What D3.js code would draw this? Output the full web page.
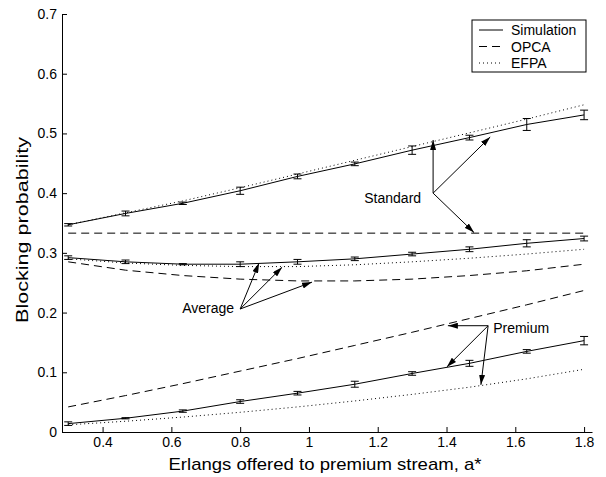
<!DOCTYPE html>
<html>
<head>
<meta charset="utf-8">
<script src="https://cdn.jsdelivr.net/npm/d3@7"></script>
<style>
  body { margin: 0; background: #fff; }
  text { font-family: "Liberation Sans", Arial, sans-serif; fill: #000; }
</style>
</head>
<body>
<div id="chart"></div>
<script>
// offered load on the premium stream
let erlangs = [0.3, 0.4667, 0.6333, 0.8, 0.9667, 1.1333, 1.3, 1.4667, 1.6333, 1.8];

// simulation results (mean, half width of error bar)
let simStandard = [0.347, 0.366, 0.383, 0.404, 0.428, 0.449, 0.472, 0.493, 0.515, 0.531];
let errStandard = [0.002, 0.004, 0.002, 0.006, 0.004, 0.003, 0.007, 0.004, 0.010, 0.008];
let simAverage  = [0.292, 0.285, 0.281, 0.281, 0.285, 0.290, 0.298, 0.306, 0.316, 0.324];
let errAverage  = [0.003, 0.003, 0.001, 0.004, 0.004, 0.003, 0.003, 0.004, 0.006, 0.004];
let simPremium  = [0.014, 0.023, 0.035, 0.051, 0.065, 0.080, 0.098, 0.115, 0.135, 0.153];
let errPremium  = [0.003, 0.001, 0.002, 0.003, 0.003, 0.005, 0.003, 0.005, 0.003, 0.007];

// OPCA approximation
let opcaStandard = [0.333, 0.333, 0.333, 0.333, 0.333, 0.333, 0.333, 0.333, 0.333, 0.333];
let opcaAverage  = [0.285, 0.271, 0.262, 0.256, 0.253, 0.253, 0.256, 0.262, 0.270, 0.281];
let opcaPremium  = [0.042, 0.061, 0.081, 0.102, 0.123, 0.145, 0.167, 0.190, 0.213, 0.237];

// EFPA approximation
let efpaStandard = [0.347, 0.367, 0.387, 0.409, 0.432, 0.455, 0.478, 0.501, 0.524, 0.548];
let efpaAverage  = [0.290, 0.283, 0.279, 0.277, 0.277, 0.280, 0.285, 0.291, 0.298, 0.306];
let efpaPremium  = [0.012, 0.018, 0.025, 0.033, 0.042, 0.052, 0.063, 0.075, 0.089, 0.105];

let xTicks = [0.4, 0.6, 0.8, 1, 1.2, 1.4, 1.6, 1.8];
let yTicks = [0, 0.1, 0.2, 0.3, 0.4, 0.5, 0.6, 0.7];

let legendNames = ['Simulation', 'OPCA', 'EFPA'];

// annotations: label, arrow origin, arrow tips (data units)
let noteLabels = ['Standard', 'Average', 'Premium'];
let noteOrigins = [[1.361, 0.400], [0.800, 0.206], [1.521, 0.178]];
let noteTips = [
    [[1.361, 0.489], [1.527, 0.494], [1.480, 0.334]],
    [[0.855, 0.283], [0.922, 0.276], [1.009, 0.251]],
    [[1.404, 0.178], [1.401, 0.109], [1.500, 0.079]]
];

let width = 606, height = 477;
let margin = { top: 14, right: 14, bottom: 45, left: 62 };

let svg = d3.select('#chart')
    .append('svg')
    .attr('width', width)
    .attr('height', height);

// axis limits run slightly past the data, like the matlab figure
let x = d3.scaleLinear().domain([0.282, 1.823]).range([margin.left, width - margin.right]);
let y = d3.scaleLinear().domain([0, 0.7]).range([height - margin.bottom, margin.top]);

// axes, ticks pointing inward
let xAxis = d3.axisBottom(x).tickValues(xTicks).tickSizeInner(-5).tickSizeOuter(0).tickPadding(5)
    .tickFormat(d3.format('~g'));
let yAxis = d3.axisLeft(y).tickValues(yTicks).tickSizeInner(-5).tickSizeOuter(0).tickPadding(5)
    .tickFormat(d3.format('~g'));

let gx = svg.append('g')
    .attr('transform', 'translate(0,' + (height - margin.bottom) + ')')
    .call(xAxis);
let gy = svg.append('g')
    .attr('transform', 'translate(' + margin.left + ',0)')
    .call(yAxis);

[gx, gy].forEach(g => {
    g.selectAll('text').style('font-size', '14px').attr('fill', '#000');
    g.selectAll('line').attr('stroke', '#000');
    g.select('.domain').attr('stroke', '#000');
});

svg.append('text')
    .attr('x', 325)
    .attr('y', 470)
    .attr('text-anchor', 'middle')
    .attr('textLength', 313)
    .attr('lengthAdjust', 'spacingAndGlyphs')
    .style('font-size', '17px')
    .text('Erlangs offered to premium stream, a*');

svg.append('text')
    .attr('transform', 'translate(28,230) rotate(-90)')
    .attr('text-anchor', 'middle')
    .attr('textLength', 186)
    .attr('lengthAdjust', 'spacingAndGlyphs')
    .style('font-size', '17px')
    .text('Blocking probability');

let line = d3.line()
    .x((d, i) => x(erlangs[i]))
    .y(d => y(d));

function drawLine (values, dash) {
    svg.append('path')
        .datum(values)
        .attr('fill', 'none')
        .attr('stroke', '#000')
        .attr('stroke-width', 1)
        .attr('stroke-dasharray', dash)
        .attr('d', line);
}

[efpaStandard, efpaAverage, efpaPremium].forEach(v => drawLine(v, '1,3'));
[opcaStandard, opcaAverage, opcaPremium].forEach(v => drawLine(v, '8,5'));
[simStandard, simAverage, simPremium].forEach(v => drawLine(v, null));

// error bars
function drawErrors (values, errs) {
    let g = svg.append('g').attr('stroke', '#000').attr('stroke-width', 1);
    values.forEach((v, i) => {
        let cx = x(erlangs[i]);
        let lo = y(v - errs[i]), hi = y(v + errs[i]);
        g.append('line').attr('x1', cx).attr('x2', cx).attr('y1', lo).attr('y2', hi);
        g.append('line').attr('x1', cx - 4).attr('x2', cx + 4).attr('y1', lo).attr('y2', lo);
        g.append('line').attr('x1', cx - 4).attr('x2', cx + 4).attr('y1', hi).attr('y2', hi);
    });
}
drawErrors(simStandard, errStandard);
drawErrors(simAverage, errAverage);
drawErrors(simPremium, errPremium);

// arrows
svg.append('defs').append('marker')
    .attr('id', 'head')
    .attr('viewBox', '0 0 10 6')
    .attr('refX', 10)
    .attr('refY', 3)
    .attr('markerWidth', 10)
    .attr('markerHeight', 6)
    .attr('markerUnits', 'userSpaceOnUse')
    .attr('orient', 'auto')
    .append('path')
    .attr('d', 'M0,0 L10,3 L0,6 Z')
    .attr('fill', '#000');

// where the label sits relative to the arrow origin
let labelOffset = [
    { dx: -12, dy: 10, anchor: 'end' },
    { dx: -6, dy: 4, anchor: 'end' },
    { dx: 5, dy: 7, anchor: 'start' }
];

noteLabels.forEach((label, k) => {
    let ox = x(noteOrigins[k][0]), oy = y(noteOrigins[k][1]);
    noteTips[k].forEach(t => {
        svg.append('line')
            .attr('x1', ox).attr('y1', oy)
            .attr('x2', x(t[0])).attr('y2', y(t[1]))
            .attr('stroke', '#000')
            .attr('stroke-width', 1)
            .attr('marker-end', 'url(#head)');
    });
    svg.append('text')
        .attr('x', ox + labelOffset[k].dx)
        .attr('y', oy + labelOffset[k].dy)
        .attr('text-anchor', labelOffset[k].anchor)
        .style('font-size', '14px')
        .text(label);
});

// legend
let legend = svg.append('g').attr('transform', 'translate(472,20)');
legend.append('rect')
    .attr('width', 114)
    .attr('height', 52)
    .attr('fill', '#fff')
    .attr('stroke', '#000');
let dashes = [null, '8,5', '1,3'];
legendNames.forEach((name, i) => {
    let ly = 10 + i * 16.5;
    legend.append('line')
        .attr('x1', 7).attr('x2', 31)
        .attr('y1', ly).attr('y2', ly)
        .attr('stroke', '#000')
        .attr('stroke-dasharray', dashes[i]);
    legend.append('text')
        .attr('x', 39)
        .attr('y', ly + 5)
        .style('font-size', '14px')
        .text(name);
});
</script>
</body>
</html>
